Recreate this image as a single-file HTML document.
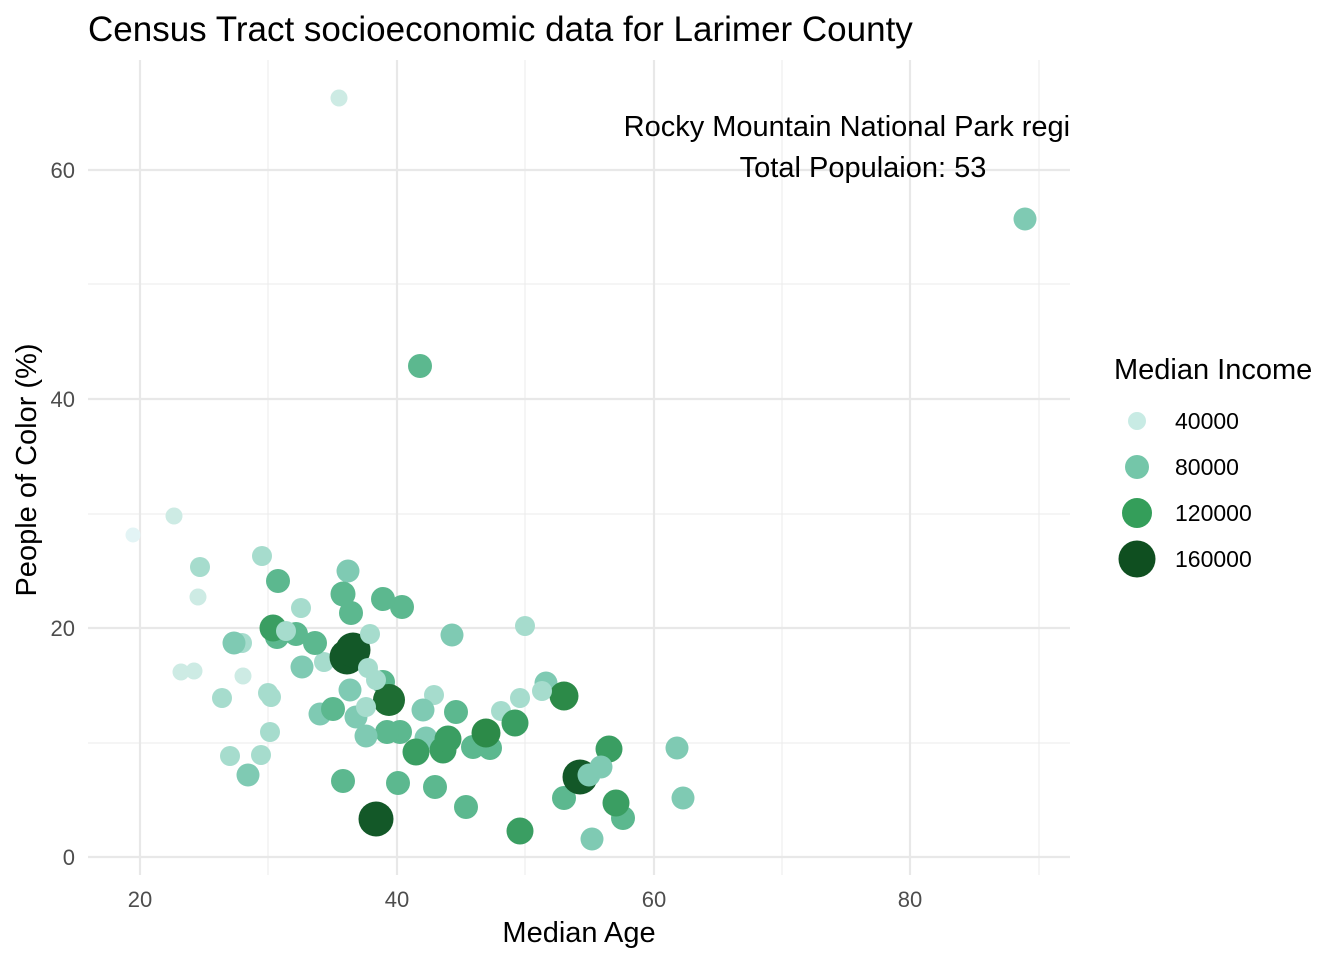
<!DOCTYPE html>
<html><head><meta charset="utf-8"><style>
html,body{margin:0;padding:0;background:#fff}
svg{display:block;font-family:"Liberation Sans",Arial,sans-serif}
</style></head><body>
<svg width="1344" height="960" viewBox="0 0 1344 960" xmlns="http://www.w3.org/2000/svg">
<defs><clipPath id="pc"><rect x="88" y="55" width="982" height="820"/></clipPath></defs>
<g stroke="#ebebeb" stroke-width="1">
<line x1="268" y1="60" x2="268" y2="875"/><line x1="525" y1="60" x2="525" y2="875"/><line x1="782" y1="60" x2="782" y2="875"/><line x1="1039" y1="60" x2="1039" y2="875"/>
<line x1="88" y1="743" x2="1070" y2="743"/><line x1="88" y1="514" x2="1070" y2="514"/><line x1="88" y1="284" x2="1070" y2="284"/>
</g>
<g stroke="#e8e8e8" stroke-width="2.2">
<line x1="140" y1="60" x2="140" y2="875"/><line x1="397" y1="60" x2="397" y2="875"/><line x1="654" y1="60" x2="654" y2="875"/><line x1="910" y1="60" x2="910" y2="875"/>
<line x1="88" y1="857" x2="1070" y2="857"/><line x1="88" y1="628" x2="1070" y2="628"/><line x1="88" y1="399" x2="1070" y2="399"/><line x1="88" y1="170" x2="1070" y2="170"/>
</g>
<g clip-path="url(#pc)">
<g fill="#e3f4f5"><circle cx="133" cy="535" r="7.5"/></g>
<g fill="#cdebe4"><circle cx="174" cy="516" r="8.5"/><circle cx="198" cy="597" r="8.5"/><circle cx="181" cy="672" r="8.5"/><circle cx="194" cy="671" r="8.5"/><circle cx="243" cy="676" r="8.5"/><circle cx="339" cy="98" r="8.5"/></g>
<g fill="#a6dccd"><circle cx="200" cy="567" r="10"/><circle cx="262" cy="556" r="10"/><circle cx="301" cy="608" r="10"/><circle cx="222" cy="698" r="10"/><circle cx="268" cy="693" r="10"/><circle cx="271" cy="697" r="10"/><circle cx="324" cy="662" r="10"/><circle cx="242" cy="643" r="10"/><circle cx="434" cy="695" r="10"/><circle cx="525" cy="626" r="10"/><circle cx="520" cy="698" r="10"/><circle cx="501" cy="711" r="10"/><circle cx="270" cy="732" r="10"/><circle cx="261" cy="755" r="10"/><circle cx="230" cy="756" r="10"/></g>
<g fill="#7fcab3"><circle cx="348" cy="571" r="11.5"/><circle cx="302" cy="667" r="11.5"/><circle cx="452" cy="635" r="11.5"/><circle cx="234" cy="643" r="11.5"/><circle cx="350" cy="690" r="11.5"/><circle cx="320" cy="714" r="11.5"/><circle cx="356" cy="717" r="11.5"/><circle cx="248" cy="775" r="11.5"/><circle cx="677" cy="748" r="11.5"/><circle cx="683" cy="798" r="11.5"/><circle cx="592" cy="839" r="11.5"/><circle cx="423" cy="710" r="11.5"/><circle cx="546" cy="683" r="11.5"/><circle cx="426" cy="738" r="11.5"/><circle cx="1025" cy="219" r="11.5"/></g>
<g fill="#5cb88f"><circle cx="278" cy="581" r="12"/><circle cx="351" cy="613" r="12"/><circle cx="402" cy="607" r="12"/><circle cx="383" cy="599" r="12"/><circle cx="277" cy="637" r="12"/><circle cx="296" cy="634" r="12"/><circle cx="315" cy="643" r="12"/><circle cx="343" cy="594" r="12.5"/><circle cx="383" cy="682" r="12"/><circle cx="333" cy="709" r="12"/><circle cx="456" cy="712" r="12"/><circle cx="490" cy="748" r="12"/><circle cx="400" cy="732" r="12"/><circle cx="435" cy="787" r="12"/><circle cx="466" cy="807" r="12"/><circle cx="564" cy="798" r="12"/><circle cx="623" cy="818" r="12"/><circle cx="420" cy="366" r="12"/><circle cx="473" cy="747" r="12"/><circle cx="387" cy="732" r="12"/><circle cx="343" cy="781" r="12"/><circle cx="398" cy="783" r="12"/></g>
<g fill="#3a9e62"><circle cx="273" cy="628" r="13.5"/><circle cx="416" cy="752" r="13.5"/><circle cx="443" cy="750" r="13.5"/><circle cx="448" cy="739" r="13.5"/><circle cx="515" cy="723" r="13.5"/><circle cx="609" cy="749" r="13.5"/><circle cx="616" cy="803" r="13.5"/><circle cx="520" cy="831" r="13.5"/></g>
<g fill="#2c8a48"><circle cx="564" cy="696" r="14.5"/><circle cx="486" cy="733" r="14.5"/></g>
<g fill="#1e6d33"><circle cx="389" cy="700" r="16"/></g>
<g fill="#135828"><circle cx="347" cy="657" r="17.5"/><circle cx="353" cy="650" r="17.5"/><circle cx="376" cy="819" r="17.5"/><circle cx="580" cy="777" r="17.5"/></g>
<g fill="#a6dccd"><circle cx="370" cy="634" r="10"/><circle cx="368" cy="668" r="10"/><circle cx="376" cy="680" r="10"/><circle cx="542" cy="691" r="10"/><circle cx="366" cy="707" r="10"/><circle cx="286" cy="631" r="10"/></g>
<g fill="#7fcab3"><circle cx="366" cy="736" r="11.5"/><circle cx="589" cy="775" r="11.5"/><circle cx="601" cy="767" r="11.5"/></g>
<text x="863" y="136" font-size="29" text-anchor="middle" fill="#000">Rocky Mountain National Park region</text>
<text x="863" y="177" font-size="29" text-anchor="middle" fill="#000">Total Populaion: 53</text>
</g>
<text x="88" y="41" font-size="35" fill="#000">Census Tract socioeconomic data for Larimer County</text>
<g font-size="22" fill="#4d4d4d" text-anchor="end">
<text x="75" y="865">0</text><text x="75" y="636">20</text><text x="75" y="407">40</text><text x="75" y="178">60</text>
</g>
<g font-size="22" fill="#4d4d4d" text-anchor="middle">
<text x="140" y="907">20</text><text x="397" y="907">40</text><text x="654" y="907">60</text><text x="910" y="907">80</text>
</g>
<text x="579" y="942" font-size="29" text-anchor="middle" fill="#000">Median Age</text>
<text transform="translate(36,470) rotate(-90)" font-size="29" text-anchor="middle" fill="#000">People of Color (%)</text>
<text x="1114" y="379" font-size="29" fill="#000">Median Income</text>
<circle cx="1137" cy="421" r="9" fill="#c8ebe4"/>
<circle cx="1137" cy="467" r="12" fill="#74c6a9"/>
<circle cx="1137" cy="513" r="15" fill="#349e5a"/>
<circle cx="1137" cy="559" r="18.5" fill="#0f4f20"/>
<g font-size="23" fill="#000">
<text x="1175" y="429">40000</text><text x="1175" y="475">80000</text><text x="1175" y="521">120000</text><text x="1175" y="567">160000</text>
</g>
</svg>
</body></html>
